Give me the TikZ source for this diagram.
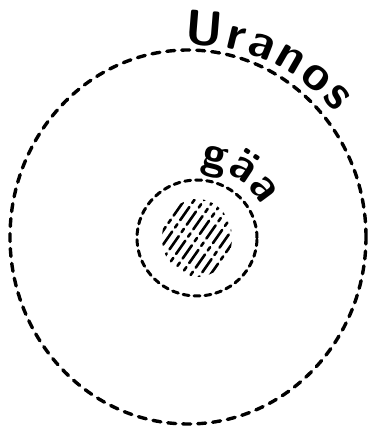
\documentclass[tikz,border=0pt]{standalone}
\usepackage{tikz}
\usetikzlibrary{decorations.text}
\tikzset{
  orbit/.style={draw=black, line width=3.4pt, dash pattern=on 8pt off 7pt, line cap=round},
  inner orbit/.style={draw=black, line width=3pt, dash pattern=on 6pt off 5pt, line cap=round},
  hatch/.style={black, line width=2.6pt, dash pattern=on 16pt off 5pt on 4pt off 5pt, line cap=round},
  curvelabel/.style 2 args={decorate, decoration={text along path, text align=fit to path,
      text={|\sffamily\bfseries\fontsize{#1}{#1}\selectfont|#2}}}
}

\begin{document}
\begin{tikzpicture}[x=1pt,y=1pt]
  \useasboundingbox (0,0) rectangle (375,429);
  \coordinate (uranos) at (188,192);
  \coordinate (gaea) at (197,191);
  % outer and inner orbits
  \draw[orbit] (uranos) ellipse (178 and 187);
  \draw[inner orbit] (gaea) ellipse (60 and 58);
  % hatched core
  \begin{scope}
    \clip (gaea) ellipse (35 and 39);
    \foreach \d in {-48,-40,...,48}{
      \draw[hatch] (gaea) ++(145:\d) ++(55:-55) -- ++(55:110);
    }
  \end{scope}
  % labels
  \path[curvelabel={49}{Uranos}] (uranos) ++(91:193) arc (91:40:193);
  \path[curvelabel={46}{gäa}] (gaea) ++(87:72) arc (87:27:72);
\end{tikzpicture}
\end{document}
